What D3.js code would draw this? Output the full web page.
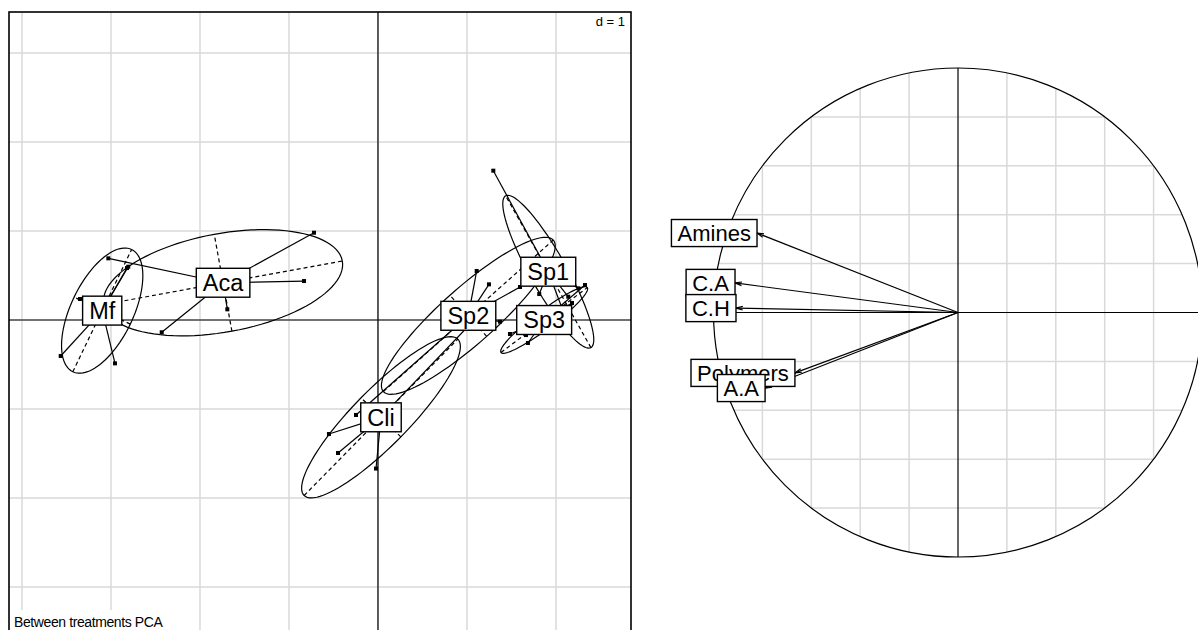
<!DOCTYPE html>
<html>
<head>
<meta charset="utf-8">
<title>between treatments PCA</title>
<script src="https://cdn.jsdelivr.net/npm/d3@7"></script>
<style>
  body { margin: 0; background: #fff; }
  text { font-family: Arial, "Liberation Sans", sans-serif; fill: #000; }
</style>
</head>
<body>
<script>
const width = 1198, height = 630;

// class scores on axes 1 and 2 (one [x, y] pair per replicate)
const classes = ["Mf", "Aca", "Sp1", "Sp2", "Sp3", "Cli"];
const mf  = [[-2.806, 0.599], [-2.820, 0.584], [-3.348, 0.236], [-3.565, -0.404], [-2.955, -0.487]];
const aca = [[-0.719, 0.981], [-0.831, 0.438], [-1.693, 0.120], [-2.430, -0.138], [-3.030, 0.693]];
const sp1 = [[1.296, 1.678], [1.812, 0.292], [2.138, 0.262], [2.251, 0.356], [2.071, 0.126]];
const sp2 = [[1.109, 0.551], [1.247, 0.401], [1.371, -0.019], [1.596, 0.371], [-0.247, -1.067]];
const sp3 = [[1.483, -0.157], [1.685, -0.258], [2.326, 0.393], [2.180, 0.191], [1.663, -0.169]];
const cli = [[-0.551, -1.281], [-0.449, -1.494], [-0.022, -1.669], [1.124, 0.045], [0.067, -1.067]];
const groups = [mf, aca, sp1, sp2, sp3, cli];

// correlation circle
const variables = ["Amines", "C.A", "C.H", "Polymers", "A.A"];
const varX = [-0.822, -0.912, -0.908, -0.667, -0.789];
const varY = [0.325, 0.121, 0.018, -0.247, -0.309];

const gridStep = 1;
const circleStep = 0.2;
const cellipse = 1.5;
const lw = 1.2;

const svg = d3.select("body").append("svg")
    .attr("width", width).attr("height", height);

// ---------- left panel ----------
const x = d3.scaleLinear().domain([-4.146, 2.843]).range([9, 631]);
const y = d3.scaleLinear().domain([-3.528, 3.461]).range([634, 12]);

const left = svg.append("g");
left.append("g").selectAll("line")
    .data(d3.range(Math.ceil(-4.146), 2.843, gridStep))
    .join("line")
    .attr("x1", d => x(d)).attr("x2", d => x(d))
    .attr("y1", y.range()[0]).attr("y2", y.range()[1])
    .attr("stroke", "#d9d9d9").attr("stroke-width", 1.5);
left.append("g").selectAll("line")
    .data(d3.range(Math.ceil(-3.528), 3.461, gridStep))
    .join("line")
    .attr("y1", d => y(d)).attr("y2", d => y(d))
    .attr("x1", x.range()[0]).attr("x2", x.range()[1])
    .attr("stroke", "#d9d9d9").attr("stroke-width", 1.5);

// d = 1
const dl = left.append("g");
const dt = dl.append("text").attr("x", 625).attr("y", 21).attr("dy", "0.35em")
    .attr("text-anchor", "end").attr("font-size", 13).text("d = " + gridStep);
const db = dt.node().getBBox();
dl.insert("rect", "text").attr("x", db.x - 3).attr("y", db.y).attr("width", db.width + 6)
    .attr("height", db.height).attr("fill", "#fff");

left.append("line").attr("x1", x(0)).attr("x2", x(0)).attr("y1", y.range()[0]).attr("y2", y.range()[1])
    .attr("stroke", "#000").attr("stroke-width", lw);
left.append("line").attr("y1", y(0)).attr("y2", y(0)).attr("x1", x.range()[0]).attr("x2", x.range()[1])
    .attr("stroke", "#000").attr("stroke-width", lw);

function stats(pts) {
  const mx = d3.mean(pts, d => d[0]), my = d3.mean(pts, d => d[1]);
  const sxx = d3.mean(pts, d => (d[0] - mx) ** 2);
  const syy = d3.mean(pts, d => (d[1] - my) ** 2);
  const sxy = d3.mean(pts, d => (d[0] - mx) * (d[1] - my));
  const tr = (sxx + syy) / 2;
  const disc = Math.sqrt(((sxx - syy) / 2) ** 2 + sxy ** 2);
  const l1 = tr + disc, l2 = Math.max(tr - disc, 0);
  let a = Math.atan2(l1 - sxx, sxy);
  if (Math.abs(sxy) < 1e-12) a = sxx >= syy ? 0 : Math.PI / 2;
  return {mx, my, a1: cellipse * Math.sqrt(l1), a2: cellipse * Math.sqrt(l2), ang: a};
}

const stat = groups.map(stats);

const body = left.append("g");
groups.forEach((pts, i) => {
  const s = stat[i];
  const c = Math.cos(s.ang), sn = Math.sin(s.ang);
  const ell = d3.range(0, 101).map(k => {
    const t = 2 * Math.PI * k / 100;
    const u = s.a1 * Math.cos(t), v = s.a2 * Math.sin(t);
    return [x(s.mx + u * c - v * sn), y(s.my + u * sn + v * c)];
  });
  body.append("path").attr("d", d3.line()(ell))
      .attr("fill", "none").attr("stroke", "#000").attr("stroke-width", lw);
  // ellipse axes
  [[s.a1 * c, s.a1 * sn], [-s.a2 * sn, s.a2 * c]].forEach(v => {
    body.append("line")
        .attr("x1", x(s.mx - v[0])).attr("y1", y(s.my - v[1]))
        .attr("x2", x(s.mx + v[0])).attr("y2", y(s.my + v[1]))
        .attr("stroke", "#000").attr("stroke-width", lw).attr("stroke-dasharray", "4,3");
  });
  // stars
  body.append("g").selectAll("line").data(pts).join("line")
      .attr("x1", x(s.mx)).attr("y1", y(s.my))
      .attr("x2", d => x(d[0])).attr("y2", d => y(d[1]))
      .attr("stroke", "#000").attr("stroke-width", lw);
  body.append("g").selectAll("rect").data(pts).join("rect")
      .attr("x", d => x(d[0]) - 2).attr("y", d => y(d[1]) - 2)
      .attr("width", 4).attr("height", 4).attr("fill", "#000");
});

function boxLabel(g, cx, cy, label, size, anchorFn) {
  const lg = g.append("g");
  const r = lg.append("rect");
  const t = lg.append("text").attr("font-size", size).attr("text-anchor", "middle")
      .attr("dy", "0.36em").text(label);
  const w = t.node().getComputedTextLength() + 2 * 0.278 * size;
  const h = 1.23 * size;
  const p = anchorFn ? anchorFn(cx, cy, w, h) : [cx, cy];
  t.attr("x", p[0]).attr("y", p[1]);
  r.attr("x", p[0] - w / 2).attr("y", p[1] - h / 2).attr("width", w).attr("height", h)
      .attr("fill", "#fff").attr("stroke", "#000").attr("stroke-width", 1.4);
}

const labs = left.append("g");
classes.forEach((name, i) => boxLabel(labs, x(stat[i].mx), y(stat[i].my), name, 23.5));

// subtitle
const sl = left.append("g");
const st = sl.append("text").attr("x", 14).attr("y", 622).attr("dy", "0.35em")
    .attr("font-size", 14).attr("letter-spacing", -0.4).text("Between treatments PCA");
const sb = st.node().getBBox();
sl.insert("rect", "text").attr("x", 9).attr("y", 610).attr("width", sb.width + 10)
    .attr("height", 30).attr("fill", "#fff");

left.append("rect").attr("x", 9).attr("y", 12).attr("width", 622).attr("height", 622)
    .attr("fill", "none").attr("stroke", "#000").attr("stroke-width", 1.6);

// ---------- right panel: correlation circle ----------
const rx = d3.scaleLinear().domain([-1, 1]).range([958 - 244.5, 958 + 244.5]);
const ry = d3.scaleLinear().domain([-1, 1]).range([312.5 + 244.5, 312.5 - 244.5]);
const right = svg.append("g");

const ticks = d3.range(-1 + circleStep, 1 - 1e-9, circleStep).filter(d => Math.abs(d) > 1e-9);
right.append("g").selectAll("line").data(ticks).join("line")
    .attr("x1", d => rx(d)).attr("x2", d => rx(d))
    .attr("y1", d => ry(Math.sqrt(1 - d * d))).attr("y2", d => ry(-Math.sqrt(1 - d * d)))
    .attr("stroke", "#d9d9d9").attr("stroke-width", 1.5);
right.append("g").selectAll("line").data(ticks).join("line")
    .attr("y1", d => ry(d)).attr("y2", d => ry(d))
    .attr("x1", d => rx(-Math.sqrt(1 - d * d))).attr("x2", d => rx(Math.sqrt(1 - d * d)))
    .attr("stroke", "#d9d9d9").attr("stroke-width", 1.5);

right.append("circle").attr("cx", rx(0)).attr("cy", ry(0)).attr("r", rx(1) - rx(0))
    .attr("fill", "none").attr("stroke", "#000").attr("stroke-width", lw);
right.append("line").attr("x1", rx(-1)).attr("x2", rx(1)).attr("y1", ry(0)).attr("y2", ry(0))
    .attr("stroke", "#000").attr("stroke-width", lw);
right.append("line").attr("x1", rx(0)).attr("x2", rx(0)).attr("y1", ry(-1)).attr("y2", ry(1))
    .attr("stroke", "#000").attr("stroke-width", lw);

const arrows = right.append("g");
variables.forEach((v, i) => {
  const x0 = rx(0), y0 = ry(0), x1 = rx(varX[i]), y1 = ry(varY[i]);
  arrows.append("line").attr("x1", x0).attr("y1", y0).attr("x2", x1).attr("y2", y1)
      .attr("stroke", "#000").attr("stroke-width", lw);
  const ang = Math.atan2(y1 - y0, x1 - x0), len = 7, da = 15 * Math.PI / 180;
  [ang + da, ang - da].forEach(a => {
    arrows.append("line").attr("x1", x1).attr("y1", y1)
        .attr("x2", x1 - len * Math.cos(a)).attr("y2", y1 - len * Math.sin(a))
        .attr("stroke", "#000").attr("stroke-width", lw);
  });
});

const vlabs = right.append("g");
variables.forEach((v, i) => {
  boxLabel(vlabs, rx(varX[i]), ry(varY[i]), v, 22, (cx, cy, w, h) => {
    const xr = varX[i], yr = varY[i];
    if (xr > yr && xr > -yr) return [cx + w / 2, cy];
    if (xr > yr && xr <= -yr) return [cx, cy + h / 2];
    if (xr <= yr && xr <= -yr) return [cx - w / 2, cy];
    return [cx, cy - h / 2];
  });
});
</script>
</body>
</html>
